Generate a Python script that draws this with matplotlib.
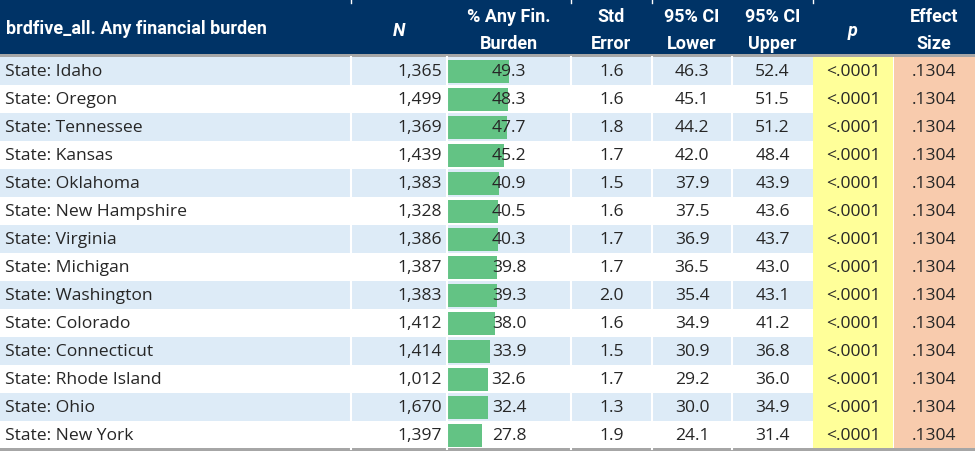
import matplotlib
matplotlib.use("Agg")
import matplotlib.pyplot as plt
from matplotlib.patches import Rectangle

states = ["Idaho", "Oregon", "Tennessee", "Kansas", "Oklahoma", "New Hampshire",
          "Virginia", "Michigan", "Washington", "Colorado", "Connecticut",
          "Rhode Island", "Ohio", "New York"]
n_vals = [1365, 1499, 1369, 1439, 1383, 1328, 1386, 1387, 1383, 1412, 1414, 1012, 1670, 1397]
pct_vals = [49.3, 48.3, 47.7, 45.2, 40.9, 40.5, 40.3, 39.8, 39.3, 38.0, 33.9, 32.6, 32.4, 27.8]
se_vals = [1.6, 1.6, 1.8, 1.7, 1.5, 1.6, 1.7, 1.7, 2.0, 1.6, 1.5, 1.7, 1.3, 1.9]
lower_vals = [46.3, 45.1, 44.2, 42.0, 37.9, 37.5, 36.9, 36.5, 35.4, 34.9, 30.9, 29.2, 30.0, 24.1]
upper_vals = [52.4, 51.5, 51.2, 48.4, 43.9, 43.6, 43.7, 43.0, 43.1, 41.2, 36.8, 36.0, 34.9, 31.4]
p_vals = ["<.0001"] * 14
effect_vals = [".1304"] * 14
headers = ["brdfive_all. Any financial burden", "N", "% Any Fin.\nBurden", "Std\nError",
           "95% CI\nLower", "95% CI\nUpper", "p", "Effect\nSize"]

W, H = 975, 452
fig = plt.figure(figsize=(W / 100, H / 100), dpi=100)
ax = fig.add_axes([0, 0, 1, 1])
ax.set_xlim(0, W)
ax.set_ylim(H, 0)
ax.axis("off")

col_edges = [0, 351, 447, 571, 652, 732, 813, 893, 975]
header_h = 55
row_top0 = 58
row_h = 28

NAVY = "#003366"
BLUE = "#DDEBF7"
YELLOW = "#FFFF99"
ORANGE = "#F8CBAD"
GREEN = "#63C384"
TXT = "#262626"

body_font = ["Open Sans", "DejaVu Sans"]
head_font = ["Roboto", "DejaVu Sans"]
BFS = 12.6
HFS = 13

# header
ax.add_patch(Rectangle((0, 0), W, header_h, color=NAVY, lw=0))
ax.add_patch(Rectangle((0, header_h), W, 3, color="#A6A6A6", lw=0))
for x in (col_edges[1], col_edges[3], col_edges[4], col_edges[6]):
    ax.plot([x - 0.5, x - 0.5], [0, 4], color="white", lw=1)
for i, h in enumerate(headers):
    x0, x1 = col_edges[i], col_edges[i + 1]
    style = "italic" if h in ("N", "p") else "normal"
    if i == 0:
        ax.text(6, header_h / 2 + 1, h, color="white", fontsize=HFS, fontweight="bold",
                family=head_font, ha="left", va="center")
    else:
        ax.text((x0 + x1) / 2, header_h / 2 + 3, h, color="white", fontsize=HFS, fontweight="bold",
                family=head_font, ha="center", va="center", linespacing=1.7, style=style)

n = len(states)
for r in range(n):
    y0 = row_top0 + r * row_h
    if r % 2 == 0:
        ax.add_patch(Rectangle((0, y0), col_edges[6], row_h, color=BLUE, lw=0))
    ax.add_patch(Rectangle((col_edges[6], y0), col_edges[7] - col_edges[6], row_h, color=YELLOW, lw=0))
    ax.add_patch(Rectangle((col_edges[7] + 1, y0), col_edges[8] - col_edges[7] - 1, row_h, color=ORANGE, lw=0))

# data bars (Excel-style, scale 0..100 across the cell)
bar_w = col_edges[3] - col_edges[2]
ys = [row_top0 + r * row_h + row_h / 2 for r in range(n)]
ax.barh(ys, [v / 100 * bar_w for v in pct_vals], left=col_edges[2] + 1, height=row_h - 5,
        color=GREEN, lw=0)

# vertical white separators
for x in col_edges[1:6]:
    ax.plot([x - 0.5, x - 0.5], [row_top0, row_top0 + n * row_h], color="white", lw=1.5)
ax.add_patch(Rectangle((0, row_top0 + n * row_h - 1), W, 4, color="#A6A6A6", lw=0))

for r in range(n):
    yc = row_top0 + r * row_h + row_h / 2 + 0.5
    ax.text(5, yc, "State: " + states[r], fontsize=BFS, family=body_font, color=TXT,
            ha="left", va="center")
    ax.text(col_edges[2] - 5, yc, f"{n_vals[r]:,}", fontsize=BFS, family=body_font, color=TXT,
            ha="right", va="center")
    vals = [f"{pct_vals[r]:.1f}", f"{se_vals[r]:.1f}", f"{lower_vals[r]:.1f}",
            f"{upper_vals[r]:.1f}", p_vals[r], effect_vals[r]]
    for j, v in enumerate(vals):
        x0, x1 = col_edges[j + 2], col_edges[j + 3]
        ax.text((x0 + x1) / 2, yc, v, fontsize=BFS, family=body_font, color=TXT,
                ha="center", va="center")

fig.savefig("out.png", dpi=100)
